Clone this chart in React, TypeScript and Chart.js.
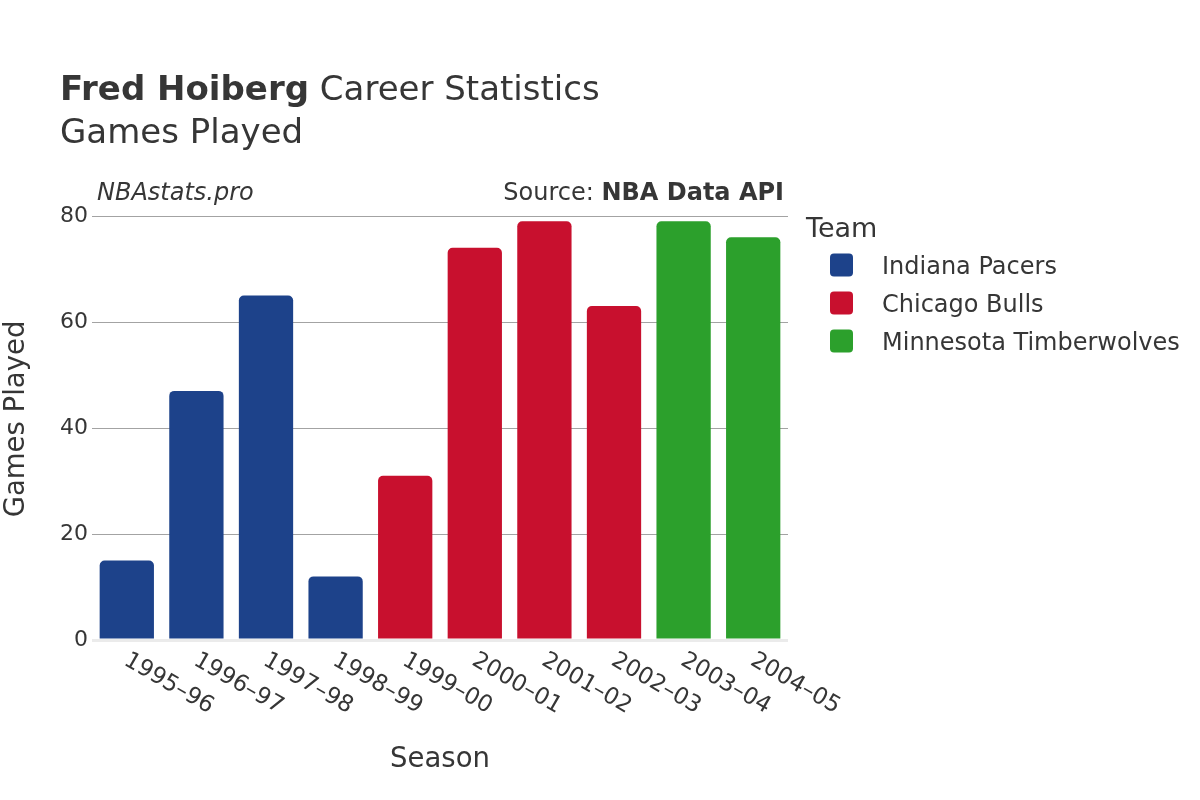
import React, { useEffect, useRef } from 'react';
import { Chart, registerables } from 'chart.js';

Chart.register(...registerables);

const seasons = ['1995–96', '1996–97', '1997–98', '1998–99', '1999–00', '2000–01', '2001–02', '2002–03', '2003–04', '2004–05'];
const gamesPlayed = [15, 47, 65, 12, 31, 74, 79, 63, 79, 76];
const seasonTeams = [
  'Indiana Pacers', 'Indiana Pacers', 'Indiana Pacers', 'Indiana Pacers',
  'Chicago Bulls', 'Chicago Bulls', 'Chicago Bulls', 'Chicago Bulls',
  'Minnesota Timberwolves', 'Minnesota Timberwolves',
];
const teamNames = ['Indiana Pacers', 'Chicago Bulls', 'Minnesota Timberwolves'];
const teamColors = ['#1D428A', '#C8102E', '#2CA02C'];
const yMin = 0;
const yMax = 80;
const yStep = 20;

const FONT = '"DejaVu Sans", sans-serif';
const TEXT = '#363636';

const overlayPlugin = {
  id: 'overlay',
  afterDraw(chart: any) {
    const ctx: CanvasRenderingContext2D = chart.ctx;
    ctx.save();
    ctx.fillStyle = TEXT;
    ctx.textBaseline = 'alphabetic';
    ctx.textAlign = 'left';

    // Title
    ctx.font = `bold 34px ${FONT}`;
    ctx.fillText('Fred Hoiberg', 60, 100);
    const w = ctx.measureText('Fred Hoiberg').width;
    ctx.font = `34px ${FONT}`;
    ctx.fillText(' Career Statistics', 60 + w, 100);
    ctx.fillText('Games Played', 60, 143);

    // Credits
    ctx.font = `italic 24px ${FONT}`;
    ctx.fillText('NBAstats.pro', 97, 200);
    ctx.font = `bold 24px ${FONT}`;
    const bw = ctx.measureText('NBA Data API').width;
    ctx.textAlign = 'right';
    ctx.fillText('NBA Data API', 784, 200);
    ctx.font = `24px ${FONT}`;
    ctx.fillText('Source: ', 784 - bw, 200);

    // Y axis title
    ctx.save();
    ctx.translate(17, 419);
    ctx.rotate(-Math.PI / 2);
    ctx.textAlign = 'center';
    ctx.textBaseline = 'middle';
    ctx.font = `27.5px ${FONT}`;
    ctx.fillText('Games Played', 0, 0);
    ctx.restore();

    // X tick labels (rotated clockwise, anchored at start)
    const xs = chart.scales.x;
    ctx.textAlign = 'left';
    ctx.font = `23px ${FONT}`;
    seasons.forEach((s, i) => {
      const x = xs.getPixelForValue(i);
      ctx.save();
      ctx.translate(x - 4, 664);
      ctx.rotate(Math.PI / 6);
      ctx.fillText(s, 0, 0);
      ctx.restore();
    });

    // Legend
    ctx.font = `27px ${FONT}`;
    ctx.fillText('Team', 806, 237);
    ctx.font = `24px ${FONT}`;
    teamNames.forEach((name, i) => {
      const cy = 265 + i * 38;
      ctx.fillStyle = teamColors[i];
      ctx.beginPath();
      (ctx as any).roundRect(830, cy - 11.5, 23, 23, 4);
      ctx.fill();
      ctx.fillStyle = TEXT;
      ctx.fillText(name, 882, cy + 9);
    });

    ctx.restore();
  },
};

export default function App() {
  const canvasRef = useRef<HTMLCanvasElement | null>(null);

  useEffect(() => {
    const canvas = canvasRef.current;
    if (!canvas) return;
    const barColors = seasonTeams.map((t) => teamColors[teamNames.indexOf(t)]);
    const chart = new Chart(canvas, {
      type: 'bar',
      data: {
        labels: seasons,
        datasets: [
          {
            label: 'Games Played',
            data: gamesPlayed,
            backgroundColor: barColors,
            borderWidth: 0,
            borderRadius: 5,
            borderSkipped: 'start',
            barPercentage: 0.78,
            categoryPercentage: 1,
          },
        ],
      },
      options: {
        responsive: false,
        animation: false,
        devicePixelRatio: 1,
        layout: { padding: { left: 0, top: 216, right: 412, bottom: 0 } },
        plugins: {
          legend: { display: false },
          tooltip: { enabled: false },
        },
        scales: {
          x: {
            type: 'category',
            offset: true,
            grid: { display: false },
            border: { display: false },
            ticks: { display: false },
            title: {
              display: true,
              text: 'Season',
              color: TEXT,
              font: { family: FONT, size: 27.5 },
              padding: { top: 0, bottom: 23.5 },
            },
            afterFit: (scale: any) => {
              scale.height = 160;
            },
          },
          y: {
            min: yMin,
            max: yMax,
            border: { display: false },
            grid: {
              drawTicks: false,
              color: (c: any) => (c.tick && c.tick.value === 0 ? '#ebebeb' : '#a3a3a3'),
              lineWidth: (c: any) => (c.tick && c.tick.value === 0 ? 3 : 1),
            },
            ticks: {
              stepSize: yStep,
              padding: 4,
              color: TEXT,
              font: { family: FONT, size: 22 },
            },
            title: { display: false },
            afterFit: (scale: any) => {
              scale.width = 92;
            },
          },
        },
      },
      plugins: [overlayPlugin],
    });
    return () => chart.destroy();
  }, []);

  return (
    <div style={{ position: 'fixed', left: 0, top: 0, width: 1200, height: 800, background: '#fff' }}>
      <canvas ref={canvasRef} width={1200} height={800} style={{ width: 1200, height: 800 }} />
    </div>
  );
}
